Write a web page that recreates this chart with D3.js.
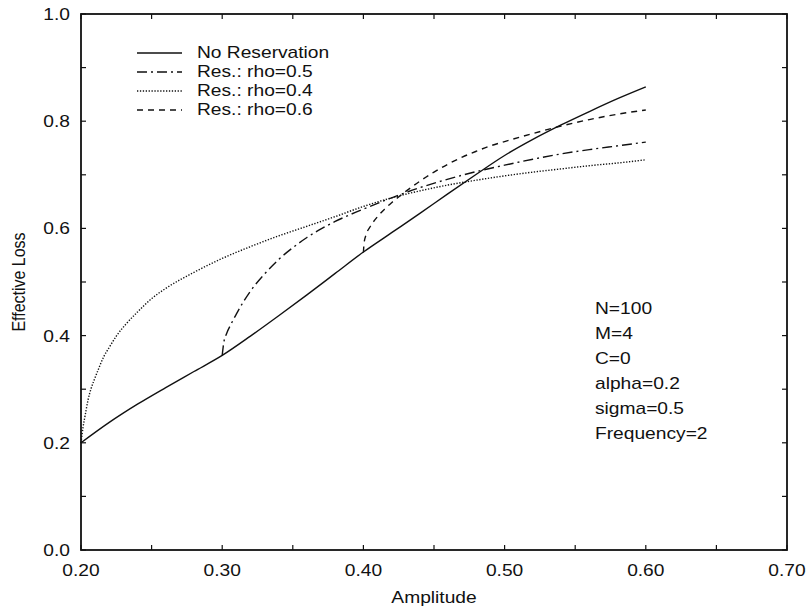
<!DOCTYPE html>
<html>
<head>
<meta charset="utf-8">
<script src="https://cdn.jsdelivr.net/npm/d3@7"></script>
<style>
  html, body { margin: 0; padding: 0; background: #fff; }
  svg { display: block; }
  text { font-family: "Liberation Sans", Arial, Helvetica, sans-serif; font-size: 16px; fill: #111; }
</style>
</head>
<body>
<svg id="chart" width="808" height="613"></svg>
<script>
// ---- Data ----
const noResX = [0.20,0.22,0.24,0.26,0.28,0.30,0.32,0.34,0.36,0.38,0.40,0.42,0.44,0.46,0.48,0.50,0.52,0.54,0.56,0.58,0.60];
const noResY = [0.200,0.238,0.272,0.303,0.333,0.363,0.399,0.437,0.476,0.516,0.556,0.592,0.628,0.665,0.701,0.736,0.766,0.793,0.818,0.842,0.864];

const rho05X = [0.300,0.301,0.303,0.306,0.310,0.315,0.320,0.330,0.340,0.350,0.360,0.370,0.380,0.390,0.400,0.420,0.440,0.460,0.480,0.500,0.520,0.540,0.560,0.580,0.600];
const rho05Y = [0.363,0.385,0.403,0.420,0.440,0.463,0.483,0.515,0.542,0.564,0.583,0.599,0.613,0.625,0.636,0.657,0.676,0.692,0.706,0.718,0.729,0.739,0.747,0.754,0.761];

const rho04X = [0.200,0.2015,0.203,0.205,0.207,0.209,0.212,0.216,0.220,0.225,0.232,0.240,0.250,0.260,0.280,0.300,0.320,0.340,0.360,0.380,0.400,0.420,0.440,0.460,0.480,0.500,0.520,0.540,0.560,0.580,0.600];
const rho04Y = [0.200,0.230,0.252,0.280,0.300,0.315,0.335,0.360,0.378,0.399,0.422,0.444,0.469,0.488,0.518,0.544,0.566,0.586,0.604,0.622,0.641,0.657,0.670,0.681,0.690,0.698,0.705,0.711,0.717,0.722,0.728];

const rho06X = [0.400,0.4005,0.402,0.405,0.410,0.415,0.420,0.430,0.440,0.450,0.460,0.470,0.480,0.490,0.500,0.520,0.540,0.560,0.580,0.600];
const rho06Y = [0.555,0.573,0.589,0.604,0.622,0.636,0.648,0.669,0.688,0.705,0.720,0.733,0.744,0.754,0.762,0.777,0.791,0.803,0.813,0.821];

const seriesNames = ["No Reservation", "Res.: rho=0.5", "Res.: rho=0.4", "Res.: rho=0.6"];
const xTickLabels = ["0.20","0.30","0.40","0.50","0.60","0.70"];
const yTickLabels = ["0.0","0.2","0.4","0.6","0.8","1.0"];
const paramLines = ["N=100","M=4","C=0","alpha=0.2","sigma=0.5","Frequency=2"];
const xTitle = "Amplitude";
const yTitle = "Effective Loss";

// ---- Layout / style ----
const L = 81, R = 787, T = 14, B = 550;
const SX = 1.2; // horizontal stretch of the scanned lettering
const dashes = ["", "10,4,2,4", "1.3,1.6", "6,5"];

const svg = d3.select("#chart");
const x = d3.scaleLinear().domain([0.2, 0.7]).range([L, R]);
const y = d3.scaleLinear().domain([0, 1]).range([B, T]);

function txt(px, py, s, anchor) {
  return svg.append("text")
    .attr("transform", `translate(${px},${py}) scale(${SX},1)`)
    .attr("text-anchor", anchor || "start")
    .text(s);
}

// Ticks (inward, all four sides)
const xt = d3.range(0.20, 0.7001, 0.05);
const yt = d3.range(0.0, 1.0001, 0.1);
const tk = svg.append("g").attr("stroke", "#111").attr("stroke-width", 1.2);
xt.forEach(v => {
  tk.append("line").attr("x1", x(v)).attr("x2", x(v)).attr("y1", B).attr("y2", B - 5);
  tk.append("line").attr("x1", x(v)).attr("x2", x(v)).attr("y1", T).attr("y2", T + 5);
});
yt.forEach(v => {
  tk.append("line").attr("x1", L).attr("x2", L + 5).attr("y1", y(v)).attr("y2", y(v));
  tk.append("line").attr("x1", R).attr("x2", R - 5).attr("y1", y(v)).attr("y2", y(v));
});

// Frame
svg.append("rect").attr("x", L).attr("y", T).attr("width", R - L).attr("height", B - T)
  .attr("fill", "none").attr("stroke", "#111").attr("stroke-width", 1.8);

// Tick labels
xTickLabels.forEach(s => txt(x(+s), 576, s, "middle"));
yTickLabels.forEach(s => txt(70, y(+s) + 6, s, "end"));

// Axis titles
txt((L + R) / 2, 603, xTitle, "middle");
svg.append("text")
  .attr("transform", `translate(25,${(T + B) / 2}) rotate(-90) scale(1,${SX})`)
  .attr("text-anchor", "middle").text(yTitle);

// Curves
const series = [
  [noResX, noResY], [rho05X, rho05Y], [rho04X, rho04Y], [rho06X, rho06Y]
];
const line = d3.line().x(d => x(d[0])).y(d => y(d[1])).curve(d3.curveMonotoneX);
series.forEach((s, i) => {
  const pts = s[0].map((v, k) => [v, s[1][k]]);
  svg.append("path").datum(pts).attr("d", line)
    .attr("fill", "none").attr("stroke", "#111").attr("stroke-width", 1.4)
    .attr("stroke-dasharray", dashes[i] || null);
});

// Legend
seriesNames.forEach((n, i) => {
  const by = 58 + i * 19;
  svg.append("line").attr("x1", 137).attr("x2", 182).attr("y1", by - 5).attr("y2", by - 5)
    .attr("stroke", "#111").attr("stroke-width", 1.4)
    .attr("stroke-dasharray", dashes[i] || null);
  txt(197, by, n, "start");
});

// Parameter annotation
paramLines.forEach((s, i) => txt(595, 314 + i * 25, s, "start"));
</script>
</body>
</html>
